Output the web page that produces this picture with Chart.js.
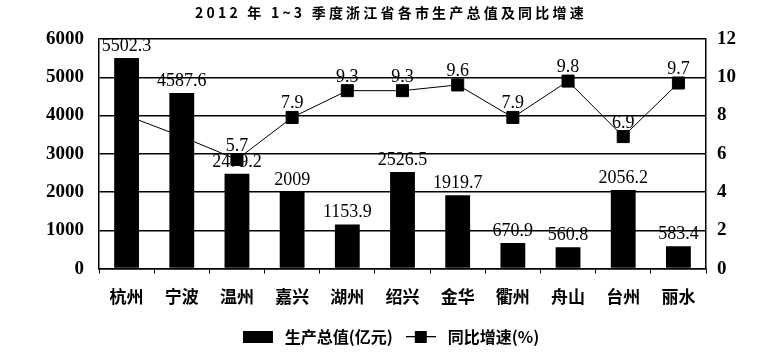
<!DOCTYPE html>
<html>
<head>
<meta charset="utf-8">
<script src="https://cdn.jsdelivr.net/npm/chart.js@4/dist/chart.umd.min.js"></script>
<style>
  html, body { margin: 0; background: #fff; }
  #wrap { width: 775px; height: 363px; }
</style>
</head>
<body>
<div id="wrap"><canvas id="c"></canvas></div>
<script>
/* ─── 資料 ─── */
const TITLE = '2012 年 1~3 季度浙江省各市生产总值及同比增速';
const CITIES = ['杭州', '宁波', '温州', '嘉兴', '湖州', '绍兴', '金华', '衢州', '舟山', '台州', '丽水'];
const GDP = [5502.3, 4587.6, 2479.2, 2009, 1153.9, 2526.5, 1919.7, 670.9, 560.8, 2056.2, 583.4];
const GROWTH = [8.0, 6.9, 5.7, 7.9, 9.3, 9.3, 9.6, 7.9, 9.8, 6.9, 9.7];
const GDP_NAME = '生产总值(亿元)';
const GROWTH_NAME = '同比增速(%)';

const SERIF = '"Liberation Serif", "DejaVu Serif", serif';
const CJK = '"Noto Sans CJK SC", sans-serif';

/* ─── 圖例小圖示 ─── */
function legendIcon(kind) {
    const c = document.createElement('canvas');
    c.width = 30; c.height = 14;
    const g = c.getContext('2d');
    g.fillStyle = '#000';
    if (kind === 'bar') {
        g.fillRect(0, 1, 30, 12);
    } else {
        g.fillRect(0, 6, 30, 1.3);
        g.fillRect(9, 1, 12, 12);
    }
    return c;
}

/* 數值標籤：先畫，讓格線與長條蓋在上面（與原圖一致） */
const valueLabels = {
    id: 'valueLabels',
    beforeDraw(chart) {
        const ctx = chart.ctx;
        ctx.save();
        ctx.fillStyle = '#000';
        ctx.textAlign = 'center';
        ctx.textBaseline = 'alphabetic';
        ctx.font = '18px ' + SERIF;
        chart.getDatasetMeta(0).data.forEach((el, i) => {
            ctx.fillText(String(GDP[i]), el.x, el.y - 7);
        });
        chart.getDatasetMeta(1).data.forEach((el, i) => {
            ctx.fillText(GROWTH[i].toFixed(1), el.x, el.y - 9);
        });
        ctx.restore();
    },
    afterDraw(chart) {
        /* 標題：字距較寬 */
        const ctx = chart.ctx;
        ctx.save();
        ctx.fillStyle = '#000';
        ctx.textAlign = 'center';
        ctx.textBaseline = 'middle';
        ctx.font = 'bold 14px ' + CJK;
        ctx.letterSpacing = '3.2px';
        ctx.fillText(TITLE, 391, 13);
        ctx.restore();
    },
};

new Chart(document.getElementById('c'), {
    data: {
        labels: CITIES,
        datasets: [
            {
                type: 'bar',
                label: GDP_NAME,
                data: GDP,
                backgroundColor: '#000',
                barPercentage: 0.45,
                categoryPercentage: 1.0,
                yAxisID: 'y',
                order: 1,
            },
            {
                type: 'line',
                label: GROWTH_NAME,
                data: GROWTH,
                borderColor: '#000',
                borderWidth: 1,
                pointStyle: 'rect',
                pointRadius: 8.5,
                pointBackgroundColor: '#000',
                pointBorderColor: '#000',
                pointBorderWidth: 1,
                tension: 0,
                yAxisID: 'y1',
                order: 2,
            },
        ],
    },
    plugins: [valueLabels],
    options: {
        responsive: true,
        maintainAspectRatio: false,
        animation: false,
        layout: { padding: { top: 39, left: 31, right: 28, bottom: 8 } },
        plugins: {
            title: { display: false },
            tooltip: { enabled: false },
            legend: {
                position: 'bottom',
                labels: {
                    color: '#000',
                    font: { family: CJK, size: 16, weight: 'bold' },
                    usePointStyle: true,
                    pointStyleWidth: 38,
                    boxHeight: 14,
                    padding: 9,
                    generateLabels: () => [
                        { text: GDP_NAME, pointStyle: legendIcon('bar'), fillStyle: '#000', strokeStyle: '#000', lineWidth: 0, fontColor: '#000' },
                        { text: GROWTH_NAME, pointStyle: legendIcon('line'), fillStyle: '#000', strokeStyle: '#000', lineWidth: 0, fontColor: '#000' },
                    ],
                },
            },
        },
        scales: {
            x: {
                offset: true,
                grid: { offset: true, drawOnChartArea: false, drawTicks: true, tickLength: 5, color: '#000' },
                border: { color: '#000', width: 1.5 },
                ticks: { color: '#000', font: { family: CJK, size: 17, weight: 'bold' }, padding: 13 },
            },
            y: {
                position: 'left',
                min: 0, max: 6000,
                ticks: { stepSize: 1000, color: '#000', font: { family: SERIF, size: 19, weight: 'bold' }, padding: 15, callback: v => String(v) },
                grid: { color: '#000', lineWidth: 1.5, drawTicks: false },
                border: { color: '#000', width: 1.5 },
            },
            y1: {
                position: 'right',
                min: 0, max: 12,
                ticks: { stepSize: 2, color: '#000', font: { family: SERIF, size: 19, weight: 'bold' }, padding: 11, callback: v => String(v) },
                grid: { drawOnChartArea: false, drawTicks: false },
                border: { color: '#000', width: 1.5 },
            },
        },
    },
});
</script>
</body>
</html>
